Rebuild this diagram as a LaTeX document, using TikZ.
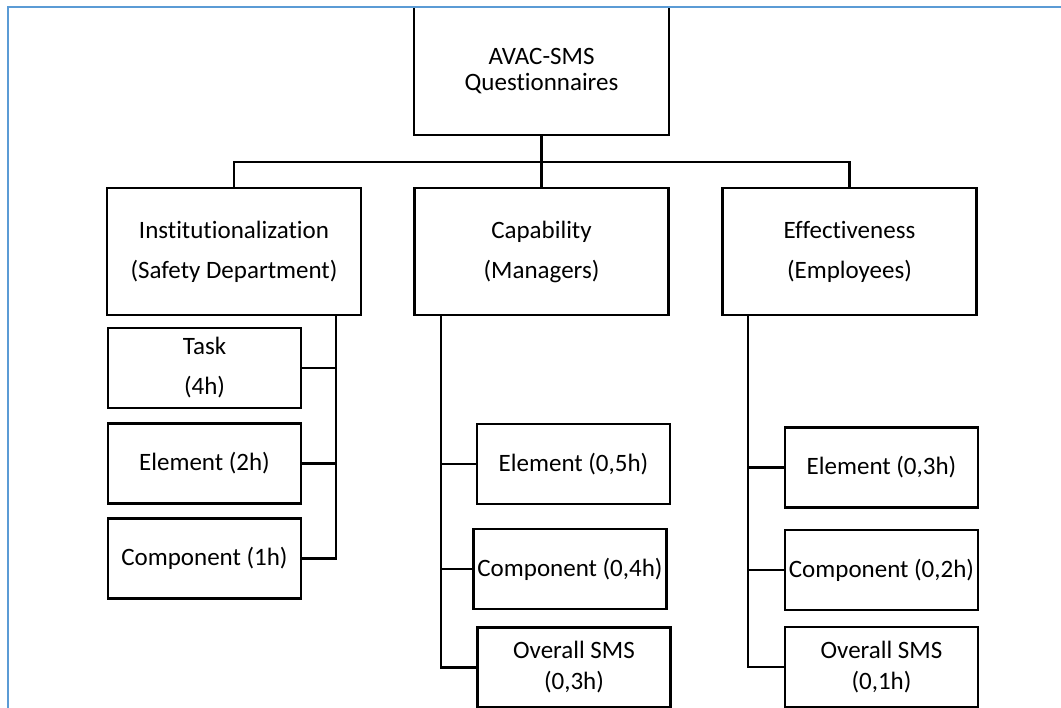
\documentclass[tikz,border=0pt]{standalone}
\usepackage{fontspec}
\setmainfont{Carlito}[Ligatures=NoCommon]
\definecolor{frameblue}{RGB}{91,155,213}

\begin{document}
\begin{tikzpicture}[x=1pt, y=-1pt,
    rootbox/.style={draw, line width=2.5pt, minimum width=255pt, minimum height=128pt,
                    inner sep=0pt, align=center, font=\fontsize{25}{26}\selectfont},
    groupbox/.style={draw, line width=2.5pt, minimum width=254pt, minimum height=127pt,
                     inner sep=0pt, align=center, font=\fontsize{25}{40}\selectfont},
    itembox/.style={draw, line width=2.5pt, minimum width=193pt, minimum height=80pt,
                    inner sep=0pt, align=center, font=\fontsize{25}{40}\selectfont},
    overallbox/.style={itembox, font=\fontsize{25}{31}\selectfont},
    link/.style={line width=2.5pt},
    pageframe/.style={draw=frameblue, line width=2pt}
  ]
  \useasboundingbox (0,0) rectangle (1061,708);

  \node[rootbox] (root) at (541.5,71) {AVAC-SMS\\Questionnaires};

  \node[groupbox] (inst) at (234,251.5) {Institutionalization\\(Safety Department)};
  \node[groupbox] (cap) at (541.5,251.5) {Capability\\(Managers)};
  \node[groupbox] (eff) at (849.5,251.5) {Effectiveness\\(Employees)};

  \node[itembox] (task) at (204.5,368) {Task\\(4h)};
  \node[itembox] (instel) at (204.5,463.5) {Element (2h)};
  \node[itembox] (instco) at (204.5,558.5) {Component (1h)};

  \node[itembox] (capel) at (573.5,464) {Element (0,5h)};
  \node[itembox] (capco) at (570,569) {Component (0,4h)};
  \node[overallbox] (capov) at (574,667.5) {Overall SMS\\(0,3h)};

  \node[itembox] (effel) at (881.5,467.5) {Element (0,3h)};
  \node[itembox] (effco) at (881.5,570) {Component (0,2h)};
  \node[overallbox] (effov) at (881.5,667) {Overall SMS\\(0,1h)};

  % top level
  \coordinate (bar) at (541.5,162);
  \draw[link] (root) -- (cap);
  \draw[link] (inst.north) |- (bar) -| (eff.north);

  % left column
  \coordinate (instspine) at ([xshift=102pt]inst.south);
  \draw[link] (instspine) |- (instco.east);
  \draw[link] (task.east) -- (task.east -| instspine);
  \draw[link] (instel.east) -- (instel.east -| instspine);

  % middle column
  \coordinate (capspine) at ([xshift=-100.5pt]cap.south);
  \draw[link] (capspine) |- (capov.west);
  \draw[link] (capel.west) -- (capel.west -| capspine);
  \draw[link] (capco.west) -- (capco.west -| capspine);

  % right column
  \coordinate (effspine) at ([xshift=-101.5pt]eff.south);
  \draw[link] (effspine) |- (effov.west);
  \draw[link] (effel.west) -- (effel.west -| effspine);
  \draw[link] (effco.west) -- (effco.west -| effspine);

  \draw[pageframe] (7.5,708) -- (7.5,7.5) -- (1061,7.5);
\end{tikzpicture}
\end{document}
